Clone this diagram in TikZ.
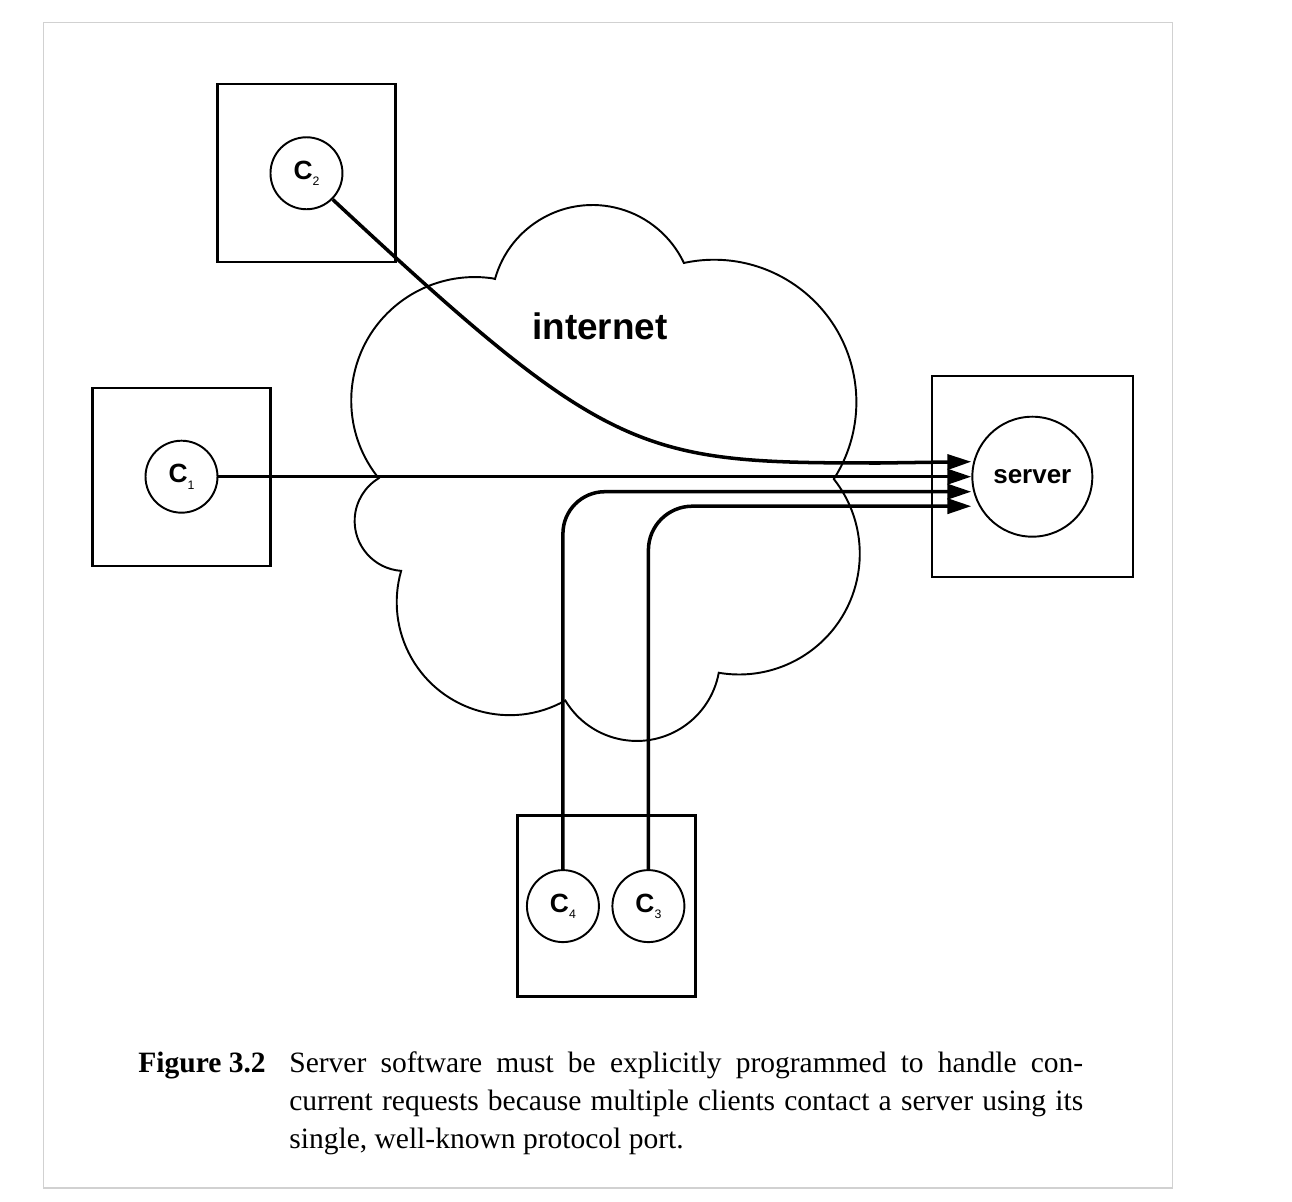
\documentclass[tikz,border=0pt]{standalone}
\usepackage{fontspec}
\setmainfont{Liberation Serif}
\setsansfont{Liberation Sans}
\usetikzlibrary{arrows.meta,positioning}
\tikzset{host/.style={draw, rectangle, line width=1.3pt, minimum width=3.56cm, minimum height=3.56cm, inner sep=0pt}}
\tikzset{client/.style={draw, circle, line width=1.1pt, minimum size=1.44cm, inner sep=0pt, font=\sffamily\bfseries\fontsize{15}{15}\selectfont}}
\tikzset{conn/.style={line width=2pt, -{Triangle[length=0.48cm,width=0.3cm]}}}
\tikzset{captext/.style={anchor=north west, inner sep=0pt, font=\fontsize{16.8}{21.8}\selectfont}}
\newcommand{\clientlbl}[1]{C\raisebox{-0.13cm}{\fontsize{7}{7}\selectfont\mdseries #1}}

\begin{document}
\begin{tikzpicture}[x=0.02cm, y=0.02cm, on grid]
	\useasboundingbox (0,0) rectangle (1292,-1202);
	\draw[black!18, line width=0.6pt] (43.5,-22.5) rectangle (1172.5,-1188);
	
	% the internet cloud
	\draw[line width=1.1pt] (495,-279)
		arc[start angle=164.4, end angle=25.3, radius=2.024cm]
		arc[start angle=102.2, end angle=-32.7, radius=2.848cm]
		arc[start angle=38.3, end angle=-99.7, radius=2.414cm]
		arc[start angle=-10.5, end angle=-149, radius=1.668cm]
		arc[start angle=-60.5, end angle=-196.1, radius=2.26cm]
		arc[start angle=-94, end angle=-238.8, radius=1.0cm]
		arc[start angle=219, end angle=81.8, radius=2.47cm] -- cycle;
	\node[font=\sffamily\bfseries\fontsize{21}{21}\selectfont] (net) at (600,-326) {internet};
	
	\node[host] (H1) at (181.5,-476.7) {};
	\node[host] (H2) [above right = 6.07cm and 2.5cm of H1] {};
	\node[host, minimum width=4.02cm, minimum height=4.02cm] (H0) [right = 17.02cm of H1] {};
	\node[host, minimum height=3.62cm] (H3) [below right = 8.59cm and 8.5cm of H1] {};
	
	\node[client] (C1) at (H1) {\clientlbl{1}};
	\node[client] (C2) at (H2) {\clientlbl{2}};
	\node[client] (C4) [left = 0.87cm of H3] {\clientlbl{4}};
	\node[client] (C3) [right = 0.84cm of H3] {\clientlbl{3}};
	\node[client, minimum size=2.4cm, font=\sffamily\bfseries\fontsize{14.8}{15}\selectfont] (S) at (H0) {server};
	
	\coordinate (p1) at ([yshift=0.3cm]S.west);
	\coordinate (p2) at (S.west);
	\coordinate (p3) at ([yshift=-0.3cm]S.west);
	\coordinate (p4) at ([yshift=-0.59cm]S.west);
	
	\draw[conn] (C1.east) -- (p2);
	\draw[conn] (C2.-45) .. controls (610,-458) and (640,-463) .. (880,-463) -- (p1);
	\draw[conn, rounded corners=0.84cm] (C4.north) |- (p3);
	\draw[conn, rounded corners=0.88cm] (C3.north) |- (p4);
	
	\node[captext, text width=15.88cm, align=justify] (cap) at (289,-1045) {\strut Server software must be explicitly programmed to handle con-\linebreak current requests because multiple clients contact a server using its\linebreak single, well-known protocol port.};
	\node[captext] (fig) at (138,-1045) {\strut\textbf{Figure 3.2}};
\end{tikzpicture}
\end{document}
